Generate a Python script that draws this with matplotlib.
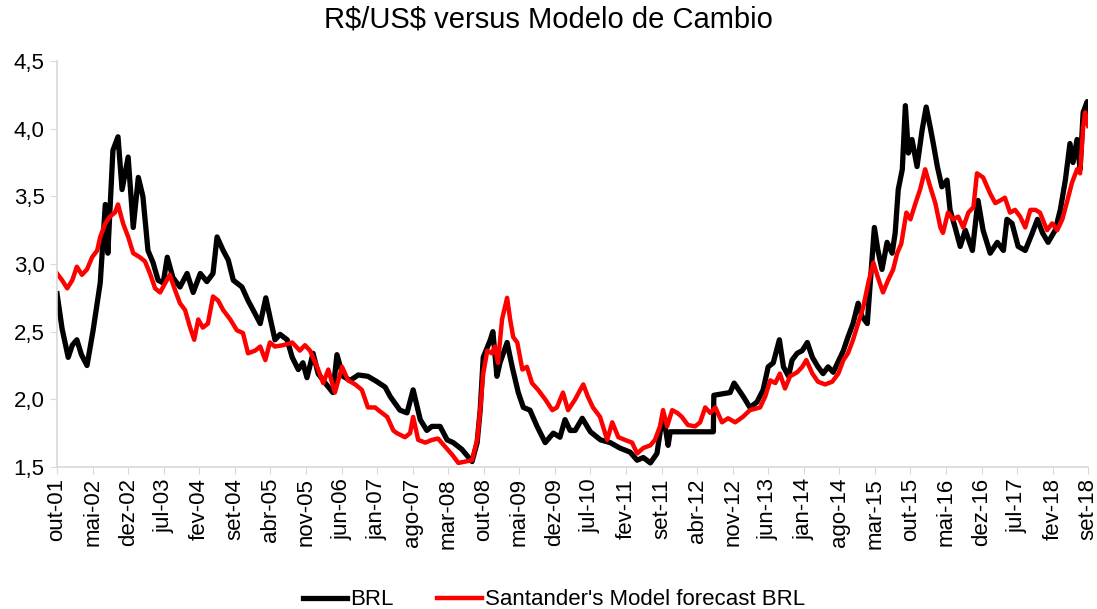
import matplotlib
matplotlib.use("Agg")
import matplotlib.pyplot as plt
from matplotlib.ticker import FuncFormatter

plt.rcParams["font.family"] = ["Liberation Sans", "DejaVu Sans"]

# meses contados a partir de out-01
brl_months = [0, 1.0, 2.2, 3.0, 3.9, 4.8, 5.9, 7.1, 8.5, 9.5, 10.0, 11.0, 12.0, 12.8, 14.0, 15.0,
              16.0, 16.9, 17.9, 18.9, 19.9, 20.9, 21.7, 22.8, 24.2, 25.6, 26.8, 28.2, 29.5, 30.7,
              31.5, 32.1, 32.7, 33.7, 34.7, 36.4, 37.6, 38.6, 40.0, 41.1, 41.9, 42.9, 43.9, 45.3,
              46.3, 47.5, 48.4, 49.2, 50.4, 51.4, 52.8, 54.3, 55.1, 56.3, 57.7, 59.3, 61.2, 63.0,
              64.6, 65.6, 67.5, 68.9, 70.1, 71.5, 72.8, 73.8, 75.4, 76.8, 78.0, 79.7, 81.7, 82.7,
              83.3, 83.9, 85.3, 85.8, 86.6, 87.2, 88.6, 89.6, 90.8, 91.8, 93.1, 94.5, 96.1, 97.7,
              99.0, 100.0, 101.0, 102.0, 103.4, 105.0, 107.0, 108.9, 110.8, 112.8, 114.2, 115.4,
              116.8, 118.1, 119.1, 119.7, 120.3, 120.7, 129.2, 129.3, 132.5, 133.3, 135.1, 136.4,
              137.8, 139.0, 140.0, 141.0, 142.2, 143.0, 144.0, 144.7, 145.7, 146.7, 147.7, 148.7,
              149.8, 150.8, 151.8, 152.8, 153.8, 154.8, 155.7, 156.7, 157.7, 158.5, 159.5, 160.0,
              160.9, 161.6, 162.4, 163.4, 164.4, 165.0, 165.6, 166.4, 167.0, 167.6, 168.3, 169.3,
              170.3, 171.1, 171.9, 172.5, 173.3, 174.2, 175.2, 175.8, 176.8, 177.8, 178.8, 180.2,
              181.3, 182.3, 183.7, 185.1, 186.3, 187.0, 188.0, 189.2, 190.6, 192.0, 193.0, 194.0,
              195.1, 196.5, 197.5, 198.5, 199.4, 200.0, 200.8, 201.4, 202.0, 202.8, 203.0]
brl_values = [2.78, 2.52, 2.31, 2.40, 2.44, 2.33, 2.25, 2.51, 2.86, 3.44, 3.08, 3.84, 3.94, 3.55, 3.79, 3.27,
              3.64, 3.50, 3.10, 3.01, 2.88, 2.86, 3.05, 2.90, 2.83, 2.93, 2.79, 2.93, 2.87, 2.93,
              3.20, 3.15, 3.10, 3.03, 2.88, 2.83, 2.73, 2.66, 2.56, 2.75, 2.61, 2.44, 2.48, 2.44,
              2.31, 2.22, 2.27, 2.16, 2.34, 2.19, 2.12, 2.05, 2.33, 2.17, 2.14, 2.18, 2.17, 2.13,
              2.09, 2.02, 1.92, 1.90, 2.07, 1.85, 1.77, 1.80, 1.80, 1.70, 1.68, 1.63, 1.54, 1.68,
              1.92, 2.31, 2.44, 2.50, 2.17, 2.27, 2.42, 2.24, 2.05, 1.94, 1.92, 1.80, 1.68, 1.75,
              1.72, 1.85, 1.77, 1.77, 1.86, 1.76, 1.70, 1.68, 1.64, 1.61, 1.55, 1.57,
              1.53, 1.60, 1.85, 1.80, 1.66, 1.76, 1.76, 2.03, 2.05, 2.12, 2.02, 1.94,
              1.98, 2.07, 2.24, 2.27, 2.44, 2.24, 2.17, 2.29, 2.34, 2.36, 2.42, 2.31,
              2.24, 2.19, 2.24, 2.20, 2.28, 2.36, 2.46, 2.56, 2.71, 2.61, 2.56, 2.81,
              3.27, 3.10, 2.96, 3.16, 3.08, 3.23, 3.55, 3.70, 4.17, 3.82, 3.92, 3.72,
              3.99, 4.16, 4.01, 3.89, 3.72, 3.57, 3.62, 3.40, 3.27, 3.13, 3.25, 3.10,
              3.47, 3.25, 3.08, 3.16, 3.10, 3.33, 3.30, 3.13, 3.10, 3.23, 3.33, 3.23,
              3.16, 3.25, 3.40, 3.62, 3.89, 3.75, 3.92, 3.70, 4.12, 4.20, 4.09]

model_months = [0, 1.0, 2.0, 3.0, 3.9, 4.9, 5.9, 6.9, 7.9, 8.5, 9.5, 10.4, 11.4, 12.0, 13.0, 14.0,
                15.0, 16.3, 17.3, 18.3, 19.3, 20.3, 21.3, 22.2, 23.2, 24.2, 25.2, 26.2, 27.0, 27.8,
                28.7, 29.7, 30.7, 31.7, 32.7, 34.1, 35.4, 36.6, 37.6, 39.0, 40.0, 41.0, 41.9, 42.9,
                44.5, 46.3, 47.8, 48.8, 49.8, 51.2, 52.4, 53.4, 54.7, 56.1, 57.3, 58.7, 60.0, 61.2,
                62.6, 63.6, 65.0, 66.2, 66.9, 68.5, 69.5, 70.1, 71.1, 72.5, 73.8, 75.0, 76.4, 77.8,
                79.0, 80.3, 81.7, 82.7, 83.3, 83.9, 84.7, 85.6, 86.2, 86.8, 87.6, 88.6, 89.2, 89.8,
                90.6, 91.6, 92.5, 93.5, 94.7, 96.1, 97.5, 98.4, 99.6, 100.6, 102.0, 103.0, 103.6,
                104.5, 105.5, 106.9, 108.3, 109.3, 110.5, 111.8, 113.2, 114.2, 115.4, 116.8, 117.7,
                118.7, 119.3, 120.1, 121.1, 122.1, 123.0, 124.2, 125.6, 126.6, 127.6, 128.6, 129.6,
                130.9, 132.1, 133.5, 135.0, 136.4, 138.4, 139.4, 140.4, 141.4, 142.3, 143.3, 144.3,
                145.7, 146.7, 147.5, 148.7, 149.8, 151.2, 152.6, 153.8, 154.8, 155.7, 156.7, 157.7,
                158.7, 159.7, 160.7, 161.6, 162.6, 163.6, 164.6, 165.4, 166.2, 167.2, 168.0, 169.0,
                169.9, 170.9, 171.9, 172.9, 173.9, 174.4, 175.4, 176.4, 177.4, 178.4, 179.4, 180.4,
                181.1, 182.3, 183.7, 184.7, 185.7, 186.6, 187.6, 188.6, 189.6, 190.6, 191.6, 192.6,
                193.5, 194.9, 195.9, 196.9, 197.9, 198.9, 199.8, 200.8, 201.4, 202.0, 202.4, 203.0]
model_values = [2.93, 2.88, 2.82, 2.88, 2.98, 2.92, 2.96, 3.05, 3.10, 3.20, 3.30, 3.35, 3.38, 3.44, 3.30, 3.20,
                3.08, 3.05, 3.02, 2.93, 2.82, 2.79, 2.86, 2.92, 2.81, 2.71, 2.66, 2.53, 2.44, 2.59,
                2.53, 2.56, 2.76, 2.73, 2.66, 2.59, 2.51, 2.49, 2.34, 2.36, 2.39, 2.29, 2.42, 2.39,
                2.40, 2.42, 2.36, 2.40, 2.36, 2.24, 2.12, 2.22, 2.05, 2.24, 2.14, 2.11, 2.07, 1.94,
                1.94, 1.91, 1.87, 1.77, 1.75, 1.72, 1.75, 1.87, 1.70, 1.68, 1.70, 1.71, 1.65, 1.59,
                1.53, 1.54, 1.55, 1.70, 1.92, 2.19, 2.36, 2.34, 2.39, 2.27, 2.59, 2.75, 2.59, 2.46,
                2.42, 2.22, 2.24, 2.12, 2.07, 2.00, 1.92, 1.94, 2.05, 1.92, 2.00, 2.07, 2.11,
                2.02, 1.94, 1.87, 1.70, 1.83, 1.72, 1.70, 1.68, 1.60, 1.64, 1.66, 1.70,
                1.80, 1.92, 1.80, 1.92, 1.90, 1.87, 1.81, 1.80, 1.83, 1.94, 1.90, 1.94,
                1.83, 1.86, 1.83, 1.87, 1.92, 1.94, 2.02, 2.14, 2.12, 2.19, 2.08, 2.17,
                2.20, 2.24, 2.29, 2.19, 2.13, 2.11, 2.13, 2.19, 2.29, 2.34, 2.44, 2.56,
                2.68, 2.86, 3.01, 2.90, 2.79, 2.88, 2.96, 3.08, 3.15, 3.38, 3.33, 3.45,
                3.55, 3.70, 3.57, 3.45, 3.27, 3.23, 3.38, 3.33, 3.35, 3.27, 3.38, 3.42,
                3.67, 3.64, 3.52, 3.45, 3.47, 3.49, 3.38, 3.40, 3.35, 3.27, 3.40, 3.40,
                3.38, 3.25, 3.30, 3.25, 3.33, 3.47, 3.60, 3.70, 3.67, 4.01, 4.12, 4.02]

tick_labels = ["out-01", "mai-02", "dez-02", "jul-03", "fev-04", "set-04", "abr-05", "nov-05",
               "jun-06", "jan-07", "ago-07", "mar-08", "out-08", "mai-09", "dez-09", "jul-10",
               "fev-11", "set-11", "abr-12", "nov-12", "jun-13", "jan-14", "ago-14", "mar-15",
               "out-15", "mai-16", "dez-16", "jul-17", "fev-18", "set-18"]

fig = plt.figure(figsize=(10.97, 6.09), dpi=100)
ax = fig.add_axes([0.052, 0.2332, 0.94, 0.6666])

ax.plot(brl_months, brl_values, color="black", lw=3.8, label="BRL")
ax.plot(model_months, model_values, color="#ff0000", lw=3.2, label="Santander's Model forecast BRL")

ax.set_xlim(0, 203)
ax.set_ylim(1.5, 4.5)
ax.set_xticks([7 * i for i in range(len(tick_labels))])
ax.set_xticklabels(tick_labels, rotation=90, fontsize=16)
ax.set_yticks([1.5, 2.0, 2.5, 3.0, 3.5, 4.0, 4.5])
ax.yaxis.set_major_formatter(FuncFormatter(lambda v, p: f"{v:.1f}".replace(".", ",")))
ax.tick_params(axis="y", labelsize=16, color="#d9d9d9", length=5, pad=4)
ax.tick_params(axis="x", color="#d9d9d9", length=5, pad=3)
for s in ["top", "right"]:
    ax.spines[s].set_visible(False)
for s in ["left", "bottom"]:
    ax.spines[s].set_color("#d9d9d9")
    ax.spines[s].set_linewidth(1.2)

fig.text(0.5, 1 - 27 / 609, r"R\$/US\$ versus Modelo de Cambio", fontsize=21,
         ha="center", va="baseline")
fig.legend(loc="lower center", bbox_to_anchor=(0.505, -0.035), ncol=2, frameon=False,
           fontsize=16, handlelength=2.0, columnspacing=1.95, handletextpad=0.15)

plt.savefig("out.png", dpi=100)
